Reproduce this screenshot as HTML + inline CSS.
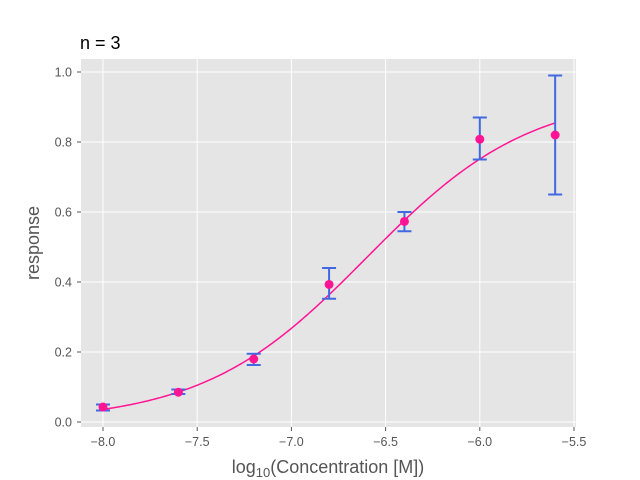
<!DOCTYPE html>
<html><head><meta charset="utf-8"><style>
body{margin:0;background:#fff}
svg{display:block;font-family:"Liberation Sans","DejaVu Sans",sans-serif}
</style></head><body>
<svg id="chart" width="640" height="480" viewBox="0 0 640 480">
<rect x="0" y="0" width="640" height="480" fill="#fff"/>
<rect x="81" y="59" width="495" height="368" fill="#E5E5E5"/>
<g id="grid"></g><g id="ticks"></g><g id="series"></g>
<text x="80" y="49" font-size="18" fill="#000">n = 3</text>
<text transform="translate(39,243) rotate(-90)" text-anchor="middle" font-size="18" fill="#555">response</text>
<text x="328" y="473" text-anchor="middle" font-size="18" fill="#555">log<tspan font-size="13" dy="4">10</tspan><tspan dy="-4">(Concentration [M])</tspan></text>
</svg>
<script>
const xs=[-8.0,-7.6,-7.2,-6.8,-6.4,-6.0,-5.6];
const ys=[0.043,0.085,0.18,0.393,0.573,0.808,0.82];
const errLow=[0.033,0.08,0.163,0.352,0.545,0.75,0.65];
const errHigh=[0.05,0.093,0.195,0.44,0.6,0.87,0.99];
const xTicks=[-8.0,-7.5,-7.0,-6.5,-6.0,-5.5];
const xTickLabels=["−8.0","−7.5","−7.0","−6.5","−6.0","−5.5"];
const yTicks=[0,0.2,0.4,0.6,0.8,1.0];
const yTickLabels=["0.0","0.2","0.4","0.6","0.8","1.0"];
const fitBottom=0, fitTop=0.94, fitLogEC50=-6.6, fitHill=1.0;
const fitRange=[-8.0,-5.6];

const NS="http://www.w3.org/2000/svg";
const X=v=>103+(v+8)*188.4;
const Y=v=>422-v*350;
function mk(tag,attrs,parent){const e=document.createElementNS(NS,tag);for(const k in attrs)e.setAttribute(k,attrs[k]);parent.appendChild(e);return e;}
const grid=document.getElementById('grid'),ticks=document.getElementById('ticks'),ser=document.getElementById('series');
xTicks.forEach((t,i)=>{
 const g=mk('line',{x1:X(t),x2:X(t),y1:59,y2:427,stroke:'#fff','stroke-width':1},grid);
 
 
 const tk=mk('line',{x1:X(t),x2:X(t),y1:427,y2:431,stroke:'#555'},ticks);
 
 
 const l=mk('text',{x:X(t),y:446,'text-anchor':'middle','font-size':12.5,fill:'#555'},ticks);
 l.textContent=xTickLabels[i];
 
 
});
yTicks.forEach((t,i)=>{
 const g=mk('line',{x1:81,x2:576,y1:Y(t),y2:Y(t),stroke:'#fff','stroke-width':1},grid);
 
 
 const tk=mk('line',{x1:77,x2:81,y1:Y(t),y2:Y(t),stroke:'#555'},ticks);
 
 
 const l=mk('text',{x:72,y:Y(t)+4.5,'text-anchor':'end','font-size':12.5,fill:'#555'},ticks);
 l.textContent=yTickLabels[i];
 
 
});
let d='';
for(let i=0;i<=200;i++){const x=fitRange[0]+(fitRange[1]-fitRange[0])*i/200;
 const y=fitBottom+(fitTop-fitBottom)/(1+Math.pow(10,(fitLogEC50-x)*fitHill));
 d+=(i?'L':'M')+X(x).toFixed(2)+','+Y(y).toFixed(2);}
const fit=mk('path',{d:d,fill:'none',stroke:'#FF1493','stroke-width':1.5},ser);


xs.forEach((x,i)=>{
 const cx=X(x);
 const eb=mk('path',{d:`M${cx},${Y(errLow[i])}L${cx},${Y(errHigh[i])}M${cx-7},${Y(errLow[i])}L${cx+7},${Y(errLow[i])}M${cx-7},${Y(errHigh[i])}L${cx+7},${Y(errHigh[i])}`,stroke:'#4169E1','stroke-width':2,fill:'none'},ser);
 
 
});
xs.forEach((x,i)=>{
 const c=mk('circle',{cx:X(x),cy:Y(ys[i]),r:4.5,fill:'#FF1493'},ser);
 
 
});
</script>
</body></html>
